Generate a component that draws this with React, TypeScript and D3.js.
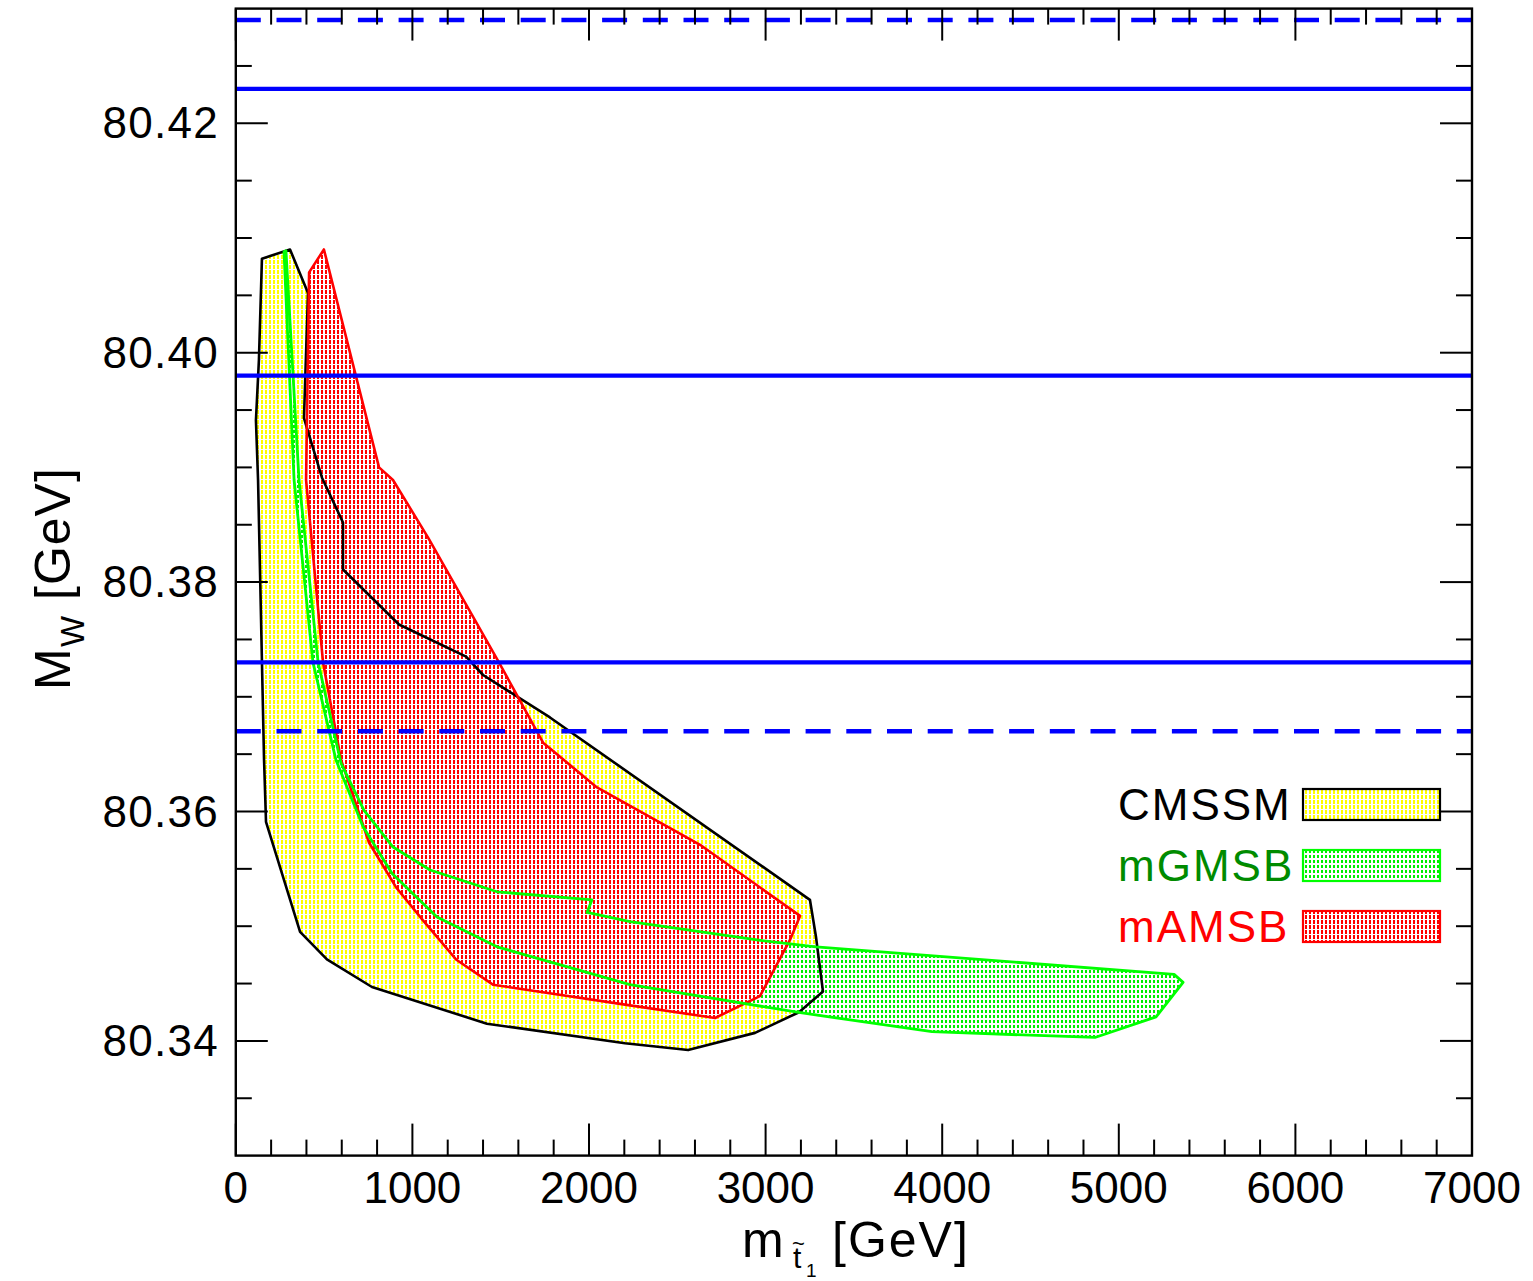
import React from "react";
import * as d3 from "d3";

const cmssmMt = [148, 307, 409, 386, 488, 607, 607, 924, 1304, 1400, 1779, 3251, 3285, 3325, 3189, 2940, 2561, 2204, 1422, 771, 516, 364, 171, 160, 126, 114, 131];
const cmssmMW = [80.4082, 80.409, 80.4052, 80.3943, 80.3891, 80.3852, 80.3811, 80.3763, 80.3735, 80.3719, 80.3682, 80.3523, 80.3491, 80.3443, 80.3425, 80.3407, 80.3392, 80.3398, 80.3415, 80.3447, 80.3471, 80.3495, 80.3591, 80.3645, 80.3889, 80.3941, 80.3994];

const mgmsbMt = [284, 358, 466, 596, 726, 890, 1100, 1479, 2017, 1989, 2232, 2951, 3285, 5313, 5364, 5211, 4865, 3942, 3178, 2232, 1479, 1139, 885, 720, 567, 437, 330, 273];
const mgmsbMW = [80.4089, 80.3889, 80.373, 80.3642, 80.3601, 80.3569, 80.3549, 80.353, 80.3523, 80.3512, 80.3504, 80.3488, 80.3482, 80.3458, 80.3451, 80.3421, 80.3403, 80.3408, 80.3425, 80.3449, 80.3482, 80.3508, 80.3546, 80.3587, 80.3645, 80.373, 80.3889, 80.4088];

const mamsbMt = [415, 499, 811, 890, 1088, 1490, 1740, 2045, 2629, 3195, 3138, 2968, 2714, 2232, 1456, 1247, 1060, 907, 754, 596, 494, 398];
const mamsbMW = [80.407, 80.409, 80.39, 80.3889, 80.3839, 80.373, 80.366, 80.3621, 80.3571, 80.3509, 80.3488, 80.3439, 80.342, 80.3431, 80.3449, 80.3471, 80.3505, 80.3534, 80.3573, 80.3645, 80.373, 80.3889];

const solidLines = [80.423, 80.398, 80.373];
const dashedLines = [80.429, 80.367];

const xMajor = [0, 1000, 2000, 3000, 4000, 5000, 6000, 7000];
const yMajor = [80.34, 80.36, 80.38, 80.4, 80.42];

const legendNames = ["CMSSM", "mGMSB", "mAMSB"];
const legendText = ["#000000", "#008b00", "#ff0000"];
const legendEdge = ["#000000", "#00ff00", "#ff0000"];
const legendPat = ["pY", "pG", "pR"];

const W = 1533;
const H = 1281;
const L = 235.8, R = 1472, T = 8.6, B = 1155.6;

export default function App() {
  const x = d3.scaleLinear().domain([0, 7000]).range([L, R]);
  const y = d3.scaleLinear().domain([80.33, 80.43]).range([B, T]);
  const line = d3.line<[number, number]>().x((d) => x(d[0])).y((d) => y(d[1])).curve(d3.curveLinearClosed);
  const pts = (a: number[], b: number[]) => a.map((v, i) => [v, b[i]] as [number, number]);
  const cm = line(pts(cmssmMt, cmssmMW)) || "";
  const gm = line(pts(mgmsbMt, mgmsbMW)) || "";
  const am = line(pts(mamsbMt, mamsbMW)) || "";

  const xMinor = d3.range(0, 7001, 200).filter((v) => v % 1000 !== 0);
  const yMinor = d3.range(0, 21).map((i) => 80.33 + i * 0.005).filter((v) => Math.abs((v - 80.34) / 0.02 - Math.round((v - 80.34) / 0.02)) > 0.01 && v > 80.331 && v < 80.429);

  const font = "'Liberation Sans', Arial, Helvetica, sans-serif";
  const majL = 32, minL = 16;

  return (
    <svg width={W} height={H} style={{ position: "absolute", left: 0, top: 0, background: "#fff" }} fontFamily={font}>
      <defs>
        <pattern id="pY" width="4" height="5" patternUnits="userSpaceOnUse">
          <rect width="4" height="5" fill="#fff" />
          <rect x="1" y="0" width="2" height="4" fill="#ffff00" />
        </pattern>
        <pattern id="pG" width="4" height="5" patternUnits="userSpaceOnUse">
          <rect width="4" height="5" fill="#fff" />
          <rect x="1" y="0" width="2" height="3" fill="#00ee00" />
        </pattern>
        <pattern id="pR" width="4" height="5" patternUnits="userSpaceOnUse">
          <rect width="4" height="5" fill="#fff" />
          <rect x="1" y="0" width="2" height="4" fill="#ff0000" />
        </pattern>
        <clipPath id="clip">
          <rect x={L} y={T} width={R - L} height={B - T} />
        </clipPath>
      </defs>
      <rect width={W} height={H} fill="#fff" />
      <g clipPath="url(#clip)">
        <path d={cm} fill="url(#pY)" />
        <path d={gm} fill="url(#pG)" />
        <path d={am} fill="url(#pR)" />
        <path d={cm} fill="none" stroke="#000" strokeWidth={2.6} strokeLinejoin="round" />
        <path d={am} fill="none" stroke="#ff0000" strokeWidth={2.6} strokeLinejoin="round" />
        <path d={gm} fill="none" stroke="#00ff00" strokeWidth={2.8} strokeLinejoin="round" />
        {solidLines.map((v) => (
          <line key={"s" + v} x1={L} x2={R} y1={y(v)} y2={y(v)} stroke="#0000ff" strokeWidth={4.4} />
        ))}
        {dashedLines.map((v) => (
          <line key={"d" + v} x1={L} x2={R} y1={y(v)} y2={y(v)} stroke="#0000ff" strokeWidth={4.4} strokeDasharray="25,15.7" />
        ))}
      </g>
      {/* ticks */}
      <g stroke="#000" strokeWidth={2}>
        {xMajor.map((v) => (
          <g key={"xm" + v}>
            <line x1={x(v)} x2={x(v)} y1={B} y2={B - majL} />
            <line x1={x(v)} x2={x(v)} y1={T} y2={T + majL} />
          </g>
        ))}
        {xMinor.map((v) => (
          <g key={"xn" + v}>
            <line x1={x(v)} x2={x(v)} y1={B} y2={B - minL} />
            <line x1={x(v)} x2={x(v)} y1={T} y2={T + minL} />
          </g>
        ))}
        {yMajor.map((v) => (
          <g key={"ym" + v}>
            <line x1={L} x2={L + majL} y1={y(v)} y2={y(v)} />
            <line x1={R} x2={R - majL} y1={y(v)} y2={y(v)} />
          </g>
        ))}
        {yMinor.map((v) => (
          <g key={"yn" + v}>
            <line x1={L} x2={L + minL} y1={y(v)} y2={y(v)} />
            <line x1={R} x2={R - minL} y1={y(v)} y2={y(v)} />
          </g>
        ))}
        <rect x={L} y={T} width={R - L} height={B - T} fill="none" strokeWidth={2.4} />
      </g>
      {/* tick labels */}
      <g fontSize={44} fill="#000">
        {xMajor.map((v) => (
          <text key={"xl" + v} x={x(v)} y={B + 47} textAnchor="middle">{v}</text>
        ))}
        {yMajor.map((v) => (
          <text key={"yl" + v} x={219} y={y(v) + 15} textAnchor="end" letterSpacing={1.3}>{v.toFixed(2)}</text>
        ))}
      </g>
      {/* axis titles */}
      <g fontSize={50} fill="#000">
        <text x={742} y={1257}>m</text>
        <text x={793} y={1268} fontSize={30}>t</text>
        <text x={792} y={1251} fontSize={22}>~</text>
        <text x={806} y={1277} fontSize={19}>1</text>
        <text x={832} y={1257} letterSpacing={2}>[GeV]</text>
        <g transform="translate(70,690) rotate(-90)">
          <text x={0} y={0}>M</text>
          <text x={43} y={14} fontSize={33}>W</text>
          <text x={90} y={0} letterSpacing={1}>[GeV]</text>
        </g>
      </g>
      {/* legend */}
      {legendNames.map((n, i) => {
        const top = 789 + i * 61;
        return (
          <g key={n}>
            <text x={1118} y={top + 31} fontSize={44} fill={legendText[i]} letterSpacing={2}>{n}</text>
            <rect x={1303} y={top} width={137} height={31} fill={`url(#${legendPat[i]})`} stroke={legendEdge[i]} strokeWidth={2.2} />
          </g>
        );
      })}
    </svg>
  );
}
